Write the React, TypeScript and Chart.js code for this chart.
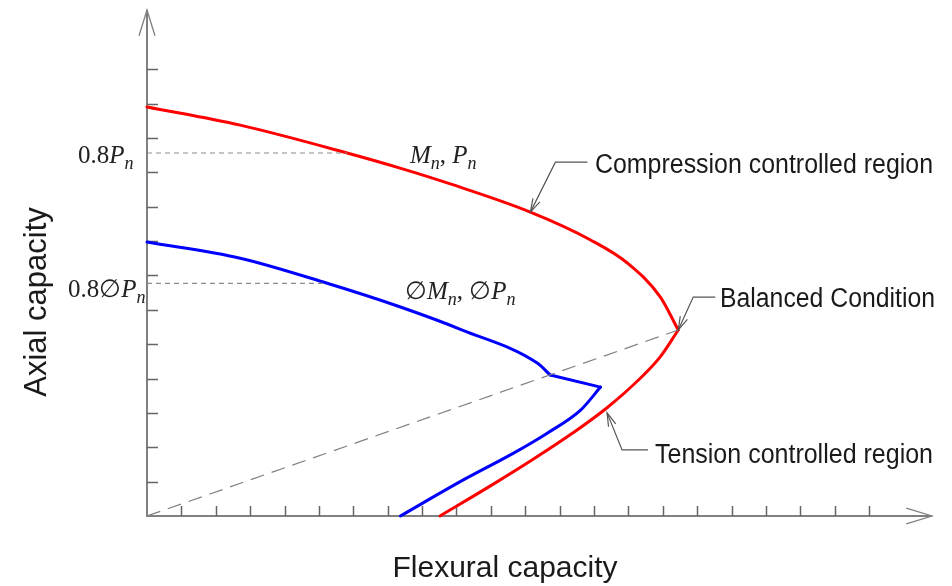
import React, { useEffect, useRef } from "react";
import { Chart, registerables } from "chart.js";

Chart.register(...registerables);

// Interaction diagram values, in tick units (one tick = one unit)
const compressionM = [0, 2.71, 5.82, 7.36, 8.82, 11.15, 12.9, 13.97, 14.93, 15.45];
const compressionP = [11.9, 11.37, 10.56, 10.12, 9.66, 8.84, 8.03, 7.36, 6.37, 5.41];
const tensionM = [8.52, 10.06, 11.23, 12.39, 13.38, 14.34, 14.92, 15.45];
const tensionP = [0, 0.92, 1.65, 2.42, 3.15, 4.0, 4.62, 5.41];
const reducedUpperM = [0, 2.71, 5.24, 7.37, 9.17, 11.35, 11.73];
const reducedUpperP = [7.97, 7.5, 6.77, 6.08, 5.41, 4.45, 4.1];
const reducedKinkM = [11.73, 13.19];
const reducedKinkP = [4.1, 3.75];
const reducedLowerM = [7.37, 9.2, 10.66, 11.64, 12.61, 13.19];
const reducedLowerP = [0, 1.05, 1.83, 2.41, 3.08, 3.75];
const balancedM = [0, 15.45];
const balancedP = [0, 5.41];
const limitPnM = [0, 5.82];
const limitPnP = [10.56, 10.56];
const limitPhiPnM = [0, 5.24];
const limitPhiPnP = [6.77, 6.77];
const xTicks = [1, 2, 3, 4, 5, 6, 7, 8, 9, 10, 11, 12, 13, 14, 15, 16, 17, 18, 19, 20, 21];
const yTicks = [1, 2, 3, 4, 5, 6, 7, 8, 9, 10, 11, 12, 13];
const xMax = 22.83;
const yMax = 14.72;

const pts = (xs: number[], ys: number[]) => xs.map((x, i) => ({ x, y: ys[i] }));

function arrowHead(ctx: CanvasRenderingContext2D, tx: number, ty: number, fx: number, fy: number, len: number, half: number) {
  const a = Math.atan2(fy - ty, fx - tx);
  ctx.beginPath();
  ctx.moveTo(tx + len * Math.cos(a - half), ty + len * Math.sin(a - half));
  ctx.lineTo(tx, ty);
  ctx.lineTo(tx + len * Math.cos(a + half), ty + len * Math.sin(a + half));
  ctx.stroke();
}

type Part = { t: string; it?: boolean; sub?: boolean };
function drawMath(ctx: CanvasRenderingContext2D, x: number, y: number, parts: Part[]) {
  let cx = x;
  ctx.fillStyle = "#222";
  ctx.textAlign = "left";
  ctx.textBaseline = "alphabetic";
  for (const p of parts) {
    ctx.font = `${p.it ? "italic " : ""}${p.sub ? 18 : 25}px "Liberation Serif", "DejaVu Serif", serif`;
    ctx.fillText(p.t, cx, y + (p.sub ? 6 : 0));
    cx += ctx.measureText(p.t).width;
  }
}

function drawFit(ctx: CanvasRenderingContext2D, text: string, x: number, y: number, width: number, size: number) {
  ctx.font = `${size}px "Liberation Sans", Arial, sans-serif`;
  const w = ctx.measureText(text).width;
  ctx.save();
  ctx.translate(x, y);
  ctx.scale(width / w, 1);
  ctx.fillStyle = "#1a1a1a";
  ctx.textAlign = "left";
  ctx.textBaseline = "alphabetic";
  ctx.fillText(text, 0, 0);
  ctx.restore();
}

const axesPlugin = {
  id: "axesPlugin",
  beforeDatasetsDraw(chart: any) {
    const ctx: CanvasRenderingContext2D = chart.ctx;
    const xs = chart.scales.x;
    const ys = chart.scales.y;
    const x0 = xs.getPixelForValue(0);
    const y0 = ys.getPixelForValue(0);
    const xEnd = xs.getPixelForValue(xMax);
    const yTop = ys.getPixelForValue(yMax);
    ctx.save();
    ctx.strokeStyle = "#808080";
    ctx.lineWidth = 2;
    ctx.beginPath();
    ctx.moveTo(x0, yTop);
    ctx.lineTo(x0, y0);
    ctx.lineTo(xEnd, y0);
    ctx.stroke();
    ctx.lineWidth = 1.3;
    arrowHead(ctx, x0, yTop, x0, y0, 27, 0.3);
    arrowHead(ctx, xEnd, y0, x0, y0, 27, 0.3);
    ctx.strokeStyle = "#666";
    ctx.lineWidth = 1.5;
    ctx.beginPath();
    for (const t of yTicks) {
      const py = Math.round(ys.getPixelForValue(t)) + 0.5;
      ctx.moveTo(x0, py);
      ctx.lineTo(x0 + 11, py);
    }
    for (const t of xTicks) {
      const px = Math.round(xs.getPixelForValue(t)) + 0.5;
      ctx.moveTo(px, y0);
      ctx.lineTo(px, y0 - 10);
    }
    ctx.stroke();
    ctx.restore();
  },
  afterDatasetsDraw(chart: any) {
    const ctx: CanvasRenderingContext2D = chart.ctx;
    const xs = chart.scales.x;
    const ys = chart.scales.y;
    ctx.save();
    ctx.strokeStyle = "#555";
    ctx.lineWidth = 1.2;
    const leaders = [
      { m: 11.15, p: 8.84, dx: 25, dy: -50, len: 32 },
      { m: 15.45, p: 5.41, dx: 15, dy: -33, len: 22 },
      { m: 13.38, p: 3.0, dx: 15, dy: 37, len: 26 },
    ];
    for (const l of leaders) {
      const tx = xs.getPixelForValue(l.m);
      const ty = ys.getPixelForValue(l.p);
      ctx.beginPath();
      ctx.moveTo(tx, ty);
      ctx.lineTo(tx + l.dx, ty + l.dy);
      ctx.lineTo(tx + l.dx + l.len, ty + l.dy);
      ctx.stroke();
      arrowHead(ctx, tx, ty, tx + l.dx, ty + l.dy, 14, 0.28);
    }
    drawFit(ctx, "Compression controlled region", 595, 173, 338, 27);
    drawFit(ctx, "Balanced Condition", 720, 307, 215, 27);
    drawFit(ctx, "Tension controlled region", 655, 463, 278, 27);

    drawMath(ctx, 78, 163, [{ t: "0.8" }, { t: "P", it: true }, { t: "n", it: true, sub: true }]);
    drawMath(ctx, 68, 297, [{ t: "0.8∅" }, { t: "P", it: true }, { t: "n", it: true, sub: true }]);
    drawMath(ctx, 410, 163, [
      { t: "M", it: true }, { t: "n", it: true, sub: true }, { t: ", " },
      { t: "P", it: true }, { t: "n", it: true, sub: true },
    ]);
    drawMath(ctx, 405, 299, [
      { t: "∅" }, { t: "M", it: true }, { t: "n", it: true, sub: true }, { t: ", ∅" },
      { t: "P", it: true }, { t: "n", it: true, sub: true },
    ]);

    ctx.fillStyle = "#1a1a1a";
    ctx.font = `30px "Liberation Sans", Arial, sans-serif`;
    ctx.textAlign = "center";
    ctx.textBaseline = "alphabetic";
    ctx.fillText("Flexural capacity", 505, 577);
    ctx.save();
    ctx.translate(46, 302);
    ctx.rotate(-Math.PI / 2);
    ctx.font = `31px "Liberation Sans", Arial, sans-serif`;
    ctx.fillText("Axial capacity", 0, 0);
    ctx.restore();
    ctx.restore();
  },
};

export default function App() {
  const ref = useRef<HTMLCanvasElement | null>(null);
  useEffect(() => {
    document.body.style.margin = "0";
    if (!ref.current) return;
    const curve = (xs: number[], ys: number[], color: string, smooth: boolean) => ({
      data: pts(xs, ys),
      showLine: true,
      borderColor: color,
      borderWidth: 3,
      pointRadius: 0,
      clip: false,
      borderCapStyle: "round",
      borderJoinStyle: "round",
      cubicInterpolationMode: smooth ? "monotone" : "default",
      tension: smooth ? 0.4 : 0,
    });
    const dashed = (xs: number[], ys: number[], dash: number[], color: string) => ({
      data: pts(xs, ys),
      showLine: true,
      borderColor: color,
      borderWidth: 1.2,
      borderDash: dash,
      pointRadius: 0,
    });
    const chart = new Chart(ref.current, {
      type: "scatter",
      data: {
        datasets: [
          dashed(limitPnM, limitPnP, [5, 4], "#8c8c8c"),
          dashed(limitPhiPnM, limitPhiPnP, [5, 4], "#8c8c8c"),
          dashed(balancedM, balancedP, [14, 8], "#808080"),
          curve(compressionM, compressionP, "#ff0000", true),
          curve(tensionM, tensionP, "#ff0000", true),
          curve(reducedUpperM, reducedUpperP, "#0000ff", true),
          curve(reducedKinkM, reducedKinkP, "#0000ff", false),
          curve(reducedLowerM, reducedLowerP, "#0000ff", true),
        ] as any,
      },
      options: {
        animation: false,
        responsive: false,
        maintainAspectRatio: false,
        devicePixelRatio: 1,
        layout: { padding: { left: 147, right: 20, top: 10, bottom: 70 } },
        scales: {
          x: { type: "linear", min: 0, max: xMax, display: false },
          y: { type: "linear", min: 0, max: yMax, display: false },
        },
        plugins: { legend: { display: false }, tooltip: { enabled: false } },
        events: [],
      },
      plugins: [axesPlugin],
    });
    return () => chart.destroy();
  }, []);
  return <canvas ref={ref} width={952} height={586} style={{ display: "block" }} />;
}
